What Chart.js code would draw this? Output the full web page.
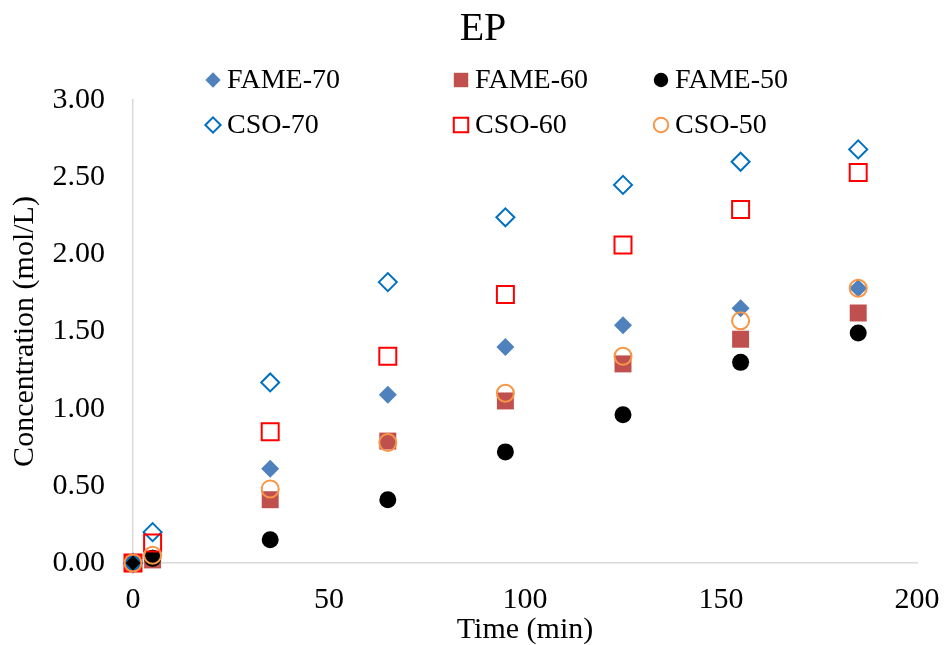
<!DOCTYPE html>
<html>
<head>
<meta charset="utf-8">
<script src="https://cdn.jsdelivr.net/npm/chart.js@4/dist/chart.umd.min.js"></script>
<style>
  html, body { margin: 0; padding: 0; background: #fff; }
  #wrap { width: 944px; height: 645px; position: relative; }
</style>
</head>
<body>
<div id="wrap"><canvas id="ep-chart"></canvas></div>
<script>
const times = [0, 5, 35, 65, 95, 125, 155, 185];
const fame70 = [0, 0.03, 0.61, 1.09, 1.40, 1.54, 1.65, 1.78];
const fame60 = [0, 0.02, 0.41, 0.79, 1.05, 1.29, 1.45, 1.62];
const fame50 = [0, 0.03, 0.15, 0.41, 0.72, 0.96, 1.30, 1.49];
const cso70 = [0, 0.20, 1.17, 1.82, 2.24, 2.45, 2.60, 2.68];
const cso60 = [0, 0.13, 0.85, 1.34, 1.74, 2.06, 2.29, 2.53];
const cso50 = [0, 0.05, 0.48, 0.78, 1.10, 1.34, 1.57, 1.78];
const yTicks = [0, 0.5, 1, 1.5, 2, 2.5, 3];
const xTicks = [0, 50, 100, 150, 200];
const chartTitle = "EP";

const serif = "'Liberation Serif', 'Times New Roman', serif";

const toPoints = (ys) => ys.map((y, i) => ({ x: times[i], y }));

const series = [
  { label: "FAME-70", data: fame70, style: "rectRot", radius: 9, fill: "#4f81bd", stroke: "#4f81bd", width: 0 },
  { label: "FAME-60", data: fame60, style: "rect", radius: 12, fill: "#c0504d", stroke: "#c0504d", width: 0 },
  { label: "FAME-50", data: fame50, style: "circle", radius: 8.5, fill: "#000000", stroke: "#000000", width: 0 },
  { label: "CSO-70", data: cso70, style: "rectRot", radius: 9, fill: "rgba(0,0,0,0)", stroke: "#0070c0", width: 2 },
  { label: "CSO-60", data: cso60, style: "rect", radius: 12, fill: "rgba(0,0,0,0)", stroke: "#ff0000", width: 2 },
  { label: "CSO-50", data: cso50, style: "circle", radius: 8.5, fill: "rgba(0,0,0,0)", stroke: "#f79646", width: 2 }
];

// title + legend drawn like Excel: legend in fixed columns, overlapping the plot top
const legendCols = [213, 461, 661];
const legendRows = [80, 125];

const excelHeader = {
  id: "excelHeader",
  afterDraw(chart) {
    const ctx = chart.ctx;
    ctx.save();
    ctx.fillStyle = "#000";
    ctx.textAlign = "center";
    ctx.textBaseline = "middle";
    ctx.font = "40px " + serif;
    ctx.fillText(chartTitle, 483, 29);

    ctx.font = "28px " + serif;
    ctx.textAlign = "left";
    series.forEach((s, i) => {
      const x = legendCols[i % 3];
      const y = legendRows[Math.floor(i / 3)];
      ctx.fillStyle = s.fill;
      ctx.strokeStyle = s.stroke;
      ctx.lineWidth = s.width;
      Chart.helpers.drawPoint(ctx, { pointStyle: s.style, radius: s.radius * 0.85, borderWidth: s.width }, x, y);
      ctx.fillStyle = "#000";
      ctx.fillText(s.label, x + 14, y + 1);
    });
    ctx.restore();
  }
};

new Chart(document.getElementById("ep-chart"), {
  type: "scatter",
  data: {
    datasets: series.map((s, i) => ({
      label: s.label,
      data: toPoints(s.data),
      pointStyle: s.style,
      pointRadius: s.radius,
      pointHoverRadius: s.radius,
      backgroundColor: s.fill,
      borderColor: s.stroke,
      borderWidth: s.width,
      clip: false,
      order: series.length - i
    }))
  },
  options: {
    animation: false,
    responsive: true,
    maintainAspectRatio: false,
    layout: { padding: { left: 0, right: 27, top: 100, bottom: 0 } },
    plugins: {
      legend: { display: false },
      tooltip: { enabled: false },
      title: { display: false }
    },
    scales: {
      x: {
        type: "linear",
        min: 0,
        max: 200,
        afterBuildTicks(axis) { axis.ticks = xTicks.map(v => ({ value: v })); },
        afterFit(axis) {
          axis.height = 82;
          axis.paddingLeft = 0;
          axis.paddingRight = 0;
        },
        ticks: {
          color: "#000",
          padding: 22,
          font: { family: serif, size: 30, lineHeight: 1 }
        },
        grid: { display: false, drawTicks: false },
        border: { display: true, color: "#d9d9d9", width: 1.5 },
        title: {
          display: true,
          text: "Time (min)",
          color: "#000",
          font: { family: serif, size: 30, lineHeight: 1 },
          padding: { top: 0, bottom: 0 }
        }
      },
      y: {
        type: "linear",
        min: 0,
        max: 3,
        afterBuildTicks(axis) { axis.ticks = yTicks.map(v => ({ value: v })); },
        afterFit(axis) { axis.width = 133; },
        ticks: {
          color: "#000",
          padding: 28,
          font: { family: serif, size: 30, lineHeight: 1 },
          callback: (v) => Number(v).toFixed(2)
        },
        grid: { display: false, drawTicks: false },
        border: { display: true, color: "#d9d9d9", width: 1.5 },
        title: {
          display: true,
          text: "Concentration (mol/L)",
          color: "#000",
          font: { family: serif, size: 30, lineHeight: 1 },
          padding: { top: 10, bottom: 0 }
        }
      }
    }
  },
  plugins: [excelHeader]
});
</script>
</body>
</html>
